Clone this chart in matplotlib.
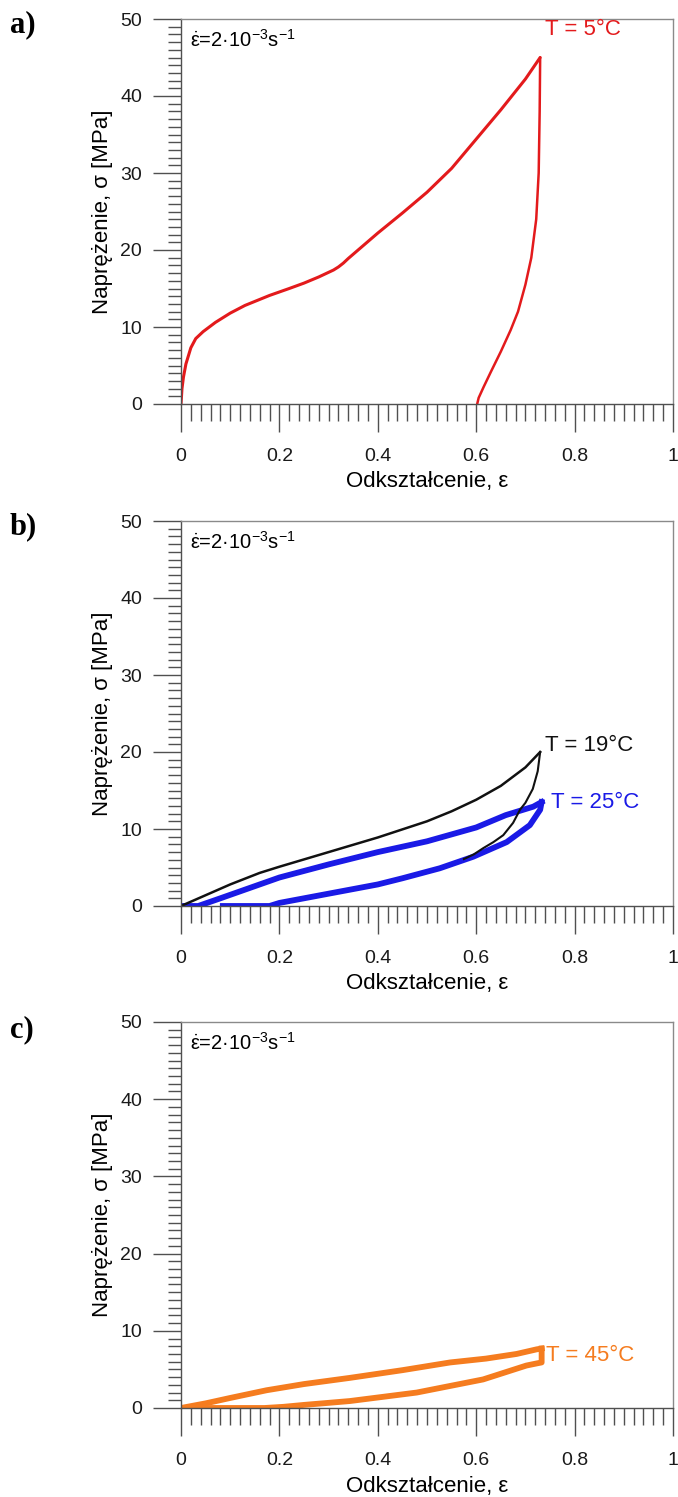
import numpy as np
import matplotlib
matplotlib.use('Agg')
import matplotlib.pyplot as plt
from matplotlib.ticker import MultipleLocator, FuncFormatter

plt.rcParams['font.family'] = ['Liberation Sans', 'DejaVu Sans']
plt.rcParams['mathtext.fontset'] = 'custom'
plt.rcParams['mathtext.rm'] = 'Liberation Sans'
plt.rcParams['mathtext.it'] = 'Liberation Sans'

# a) T = 5 C
a_load_x = [0, 0.002, 0.005, 0.01, 0.02, 0.03, 0.045, 0.07, 0.1, 0.13, 0.18, 0.22, 0.25, 0.28, 0.3, 0.31, 0.32, 0.33, 0.34,
            0.36, 0.38, 0.4, 0.45, 0.5, 0.55, 0.6, 0.65, 0.7, 0.73]
a_load_y = [0, 2.0, 3.5, 5.2, 7.3, 8.5, 9.4, 10.6, 11.8, 12.8, 14.1, 15.0, 15.7, 16.5, 17.1, 17.4, 17.8, 18.3, 18.9,
            20.0, 21.1, 22.2, 24.8, 27.5, 30.6, 34.4, 38.2, 42.2, 45.0]
a_unl_x = [0.73, 0.729, 0.727, 0.722, 0.712, 0.70, 0.685, 0.67, 0.65, 0.63, 0.615, 0.605, 0.602]
a_unl_y = [45.0, 38.0, 30.0, 24.0, 19.0, 15.5, 12.0, 9.6, 6.8, 4.2, 2.2, 0.8, 0]

# b) T = 19 C (black)
b19_load_x = [0, 0.05, 0.1, 0.16, 0.2, 0.3, 0.4, 0.5, 0.55, 0.6, 0.65, 0.7, 0.73]
b19_load_y = [0, 1.4, 2.8, 4.3, 5.1, 7.0, 8.9, 11.0, 12.3, 13.8, 15.6, 18.0, 20.0]
b19_unl_x = [0.73, 0.725, 0.715, 0.70, 0.689, 0.675, 0.655, 0.635, 0.614, 0.595, 0.575]
b19_unl_y = [20.0, 17.5, 15.2, 13.4, 12.5, 10.8, 9.2, 8.3, 7.5, 6.7, 6.1]

# b) T = 25 C (blue)
b25_load_x = [0, 0.035, 0.08, 0.12, 0.16, 0.2, 0.3, 0.4, 0.5, 0.6, 0.66, 0.716, 0.733]
b25_load_y = [0, 0, 1.0, 1.9, 2.8, 3.7, 5.4, 7.0, 8.4, 10.2, 11.8, 12.9, 13.5]
b25_unl_x = [0.733, 0.73, 0.709, 0.662, 0.594, 0.526, 0.45, 0.4, 0.3, 0.25, 0.2, 0.18, 0.085]
b25_unl_y = [13.5, 12.5, 10.5, 8.3, 6.4, 4.9, 3.6, 2.8, 1.6, 1.0, 0.4, 0, 0]

# c) T = 45 C
c_load_x = [0, 0.05, 0.1, 0.174, 0.25, 0.343, 0.45, 0.547, 0.62, 0.682, 0.723, 0.733]
c_load_y = [0, 0.6, 1.3, 2.3, 3.1, 3.9, 4.9, 5.9, 6.4, 7.0, 7.6, 7.7]
c_unl_x = [0.733, 0.733, 0.725, 0.702, 0.614, 0.479, 0.343, 0.25, 0.208, 0.17, 0.1, 0.03]
c_unl_y = [7.7, 5.9, 5.8, 5.5, 3.7, 2.0, 0.9, 0.4, 0.15, 0, 0, 0]

xticks = [0, 0.2, 0.4, 0.6, 0.8, 1]
yticks = [0, 10, 20, 30, 40, 50]

RED = '#e31a1c'
BLACK = '#111111'
BLUE = '#1a1ae6'
ORANGE = '#f57c1f'

fig = plt.figure(figsize=(6.78, 14.97), dpi=100)
W, H = 678.0, 1497.0
boxes = [(181, 19, 404), (181, 521, 906), (181, 1022, 1408)]
axes = []
for left, top, bottom in boxes:
    ax = fig.add_axes([left / W, (H - bottom) / H, 492 / W, (bottom - top) / H])
    axes.append(ax)


def style(ax):
    ax.set_xlim(0, 1)
    ax.set_ylim(0, 50)
    ax.set_xticks(xticks)
    ax.set_yticks(yticks)
    ax.xaxis.set_minor_locator(MultipleLocator(0.02))
    ax.yaxis.set_minor_locator(MultipleLocator(1))
    ax.xaxis.set_major_formatter(FuncFormatter(lambda v, p: f'{v:g}'))
    ax.tick_params(axis='both', which='both', direction='out', color='#505050', width=1.0, labelsize=14)
    ax.tick_params(axis='x', which='major', length=20, pad=12)
    ax.tick_params(axis='x', which='minor', length=12.5)
    ax.tick_params(axis='y', which='major', length=20, pad=8)
    ax.tick_params(axis='y', which='minor', length=9.5)
    for s in ['left', 'bottom']:
        ax.spines[s].set_color('#505050')
        ax.spines[s].set_linewidth(1.0)
    for s in ['top', 'right']:
        ax.spines[s].set_color('#8a8a8a')
        ax.spines[s].set_linewidth(1.0)
    ax.set_xlabel('Odkształcenie, ε', fontsize=16)
    ax.set_ylabel('Naprężenie, σ [MPa]', fontsize=16)
    ax.xaxis.set_label_coords(0.5, -0.175)
    ax.yaxis.set_label_coords(-0.138, 0.5)
    ax.text(0.018, 0.945, r'$\dot{\mathrm{\varepsilon}}$=2·10$^{\mathrm{-3}}$s$^{\mathrm{-1}}$',
            transform=ax.transAxes, fontsize=14.5, ha='left', va='center')
    for lab in ax.get_xticklabels() + ax.get_yticklabels():
        lab.set_color('#1a1a1a')


for ax in axes:
    style(ax)

ax = axes[0]
ax.plot(a_load_x, a_load_y, color=RED, lw=2.2, solid_capstyle='round')
ax.plot(a_unl_x, a_unl_y, color=RED, lw=1.8, solid_capstyle='round')
ax.text(0.74, 48.6, 'T = 5°C', color=RED, fontsize=16, ha='left', va='center')

ax = axes[1]
ax.plot(b25_load_x, b25_load_y, color=BLUE, lw=4.2)
ax.plot(b25_unl_x, b25_unl_y, color=BLUE, lw=4.2)
ax.plot(b19_load_x, b19_load_y, color=BLACK, lw=1.8)
ax.plot(b19_unl_x, b19_unl_y, color=BLACK, lw=1.5)
ax.text(0.74, 20.8, 'T = 19°C', color=BLACK, fontsize=16, ha='left', va='center')
ax.text(0.752, 13.4, 'T = 25°C', color=BLUE, fontsize=16, ha='left', va='center')

ax = axes[2]
ax.plot(c_load_x, c_load_y, color=ORANGE, lw=4.2)
ax.plot(c_unl_x, c_unl_y, color=ORANGE, lw=4.2)
ax.text(0.742, 6.75, 'T = 45°C', color=ORANGE, fontsize=16, ha='left', va='center')

for lab, ypix in [('a)', 25), ('b)', 527), ('c)', 1030)]:
    fig.text(10 / W, 1 - ypix / H, lab, fontsize=22, fontweight='bold',
             family=['Liberation Serif', 'DejaVu Serif'], ha='left', va='center')

fig.savefig('out.png', dpi=100)
